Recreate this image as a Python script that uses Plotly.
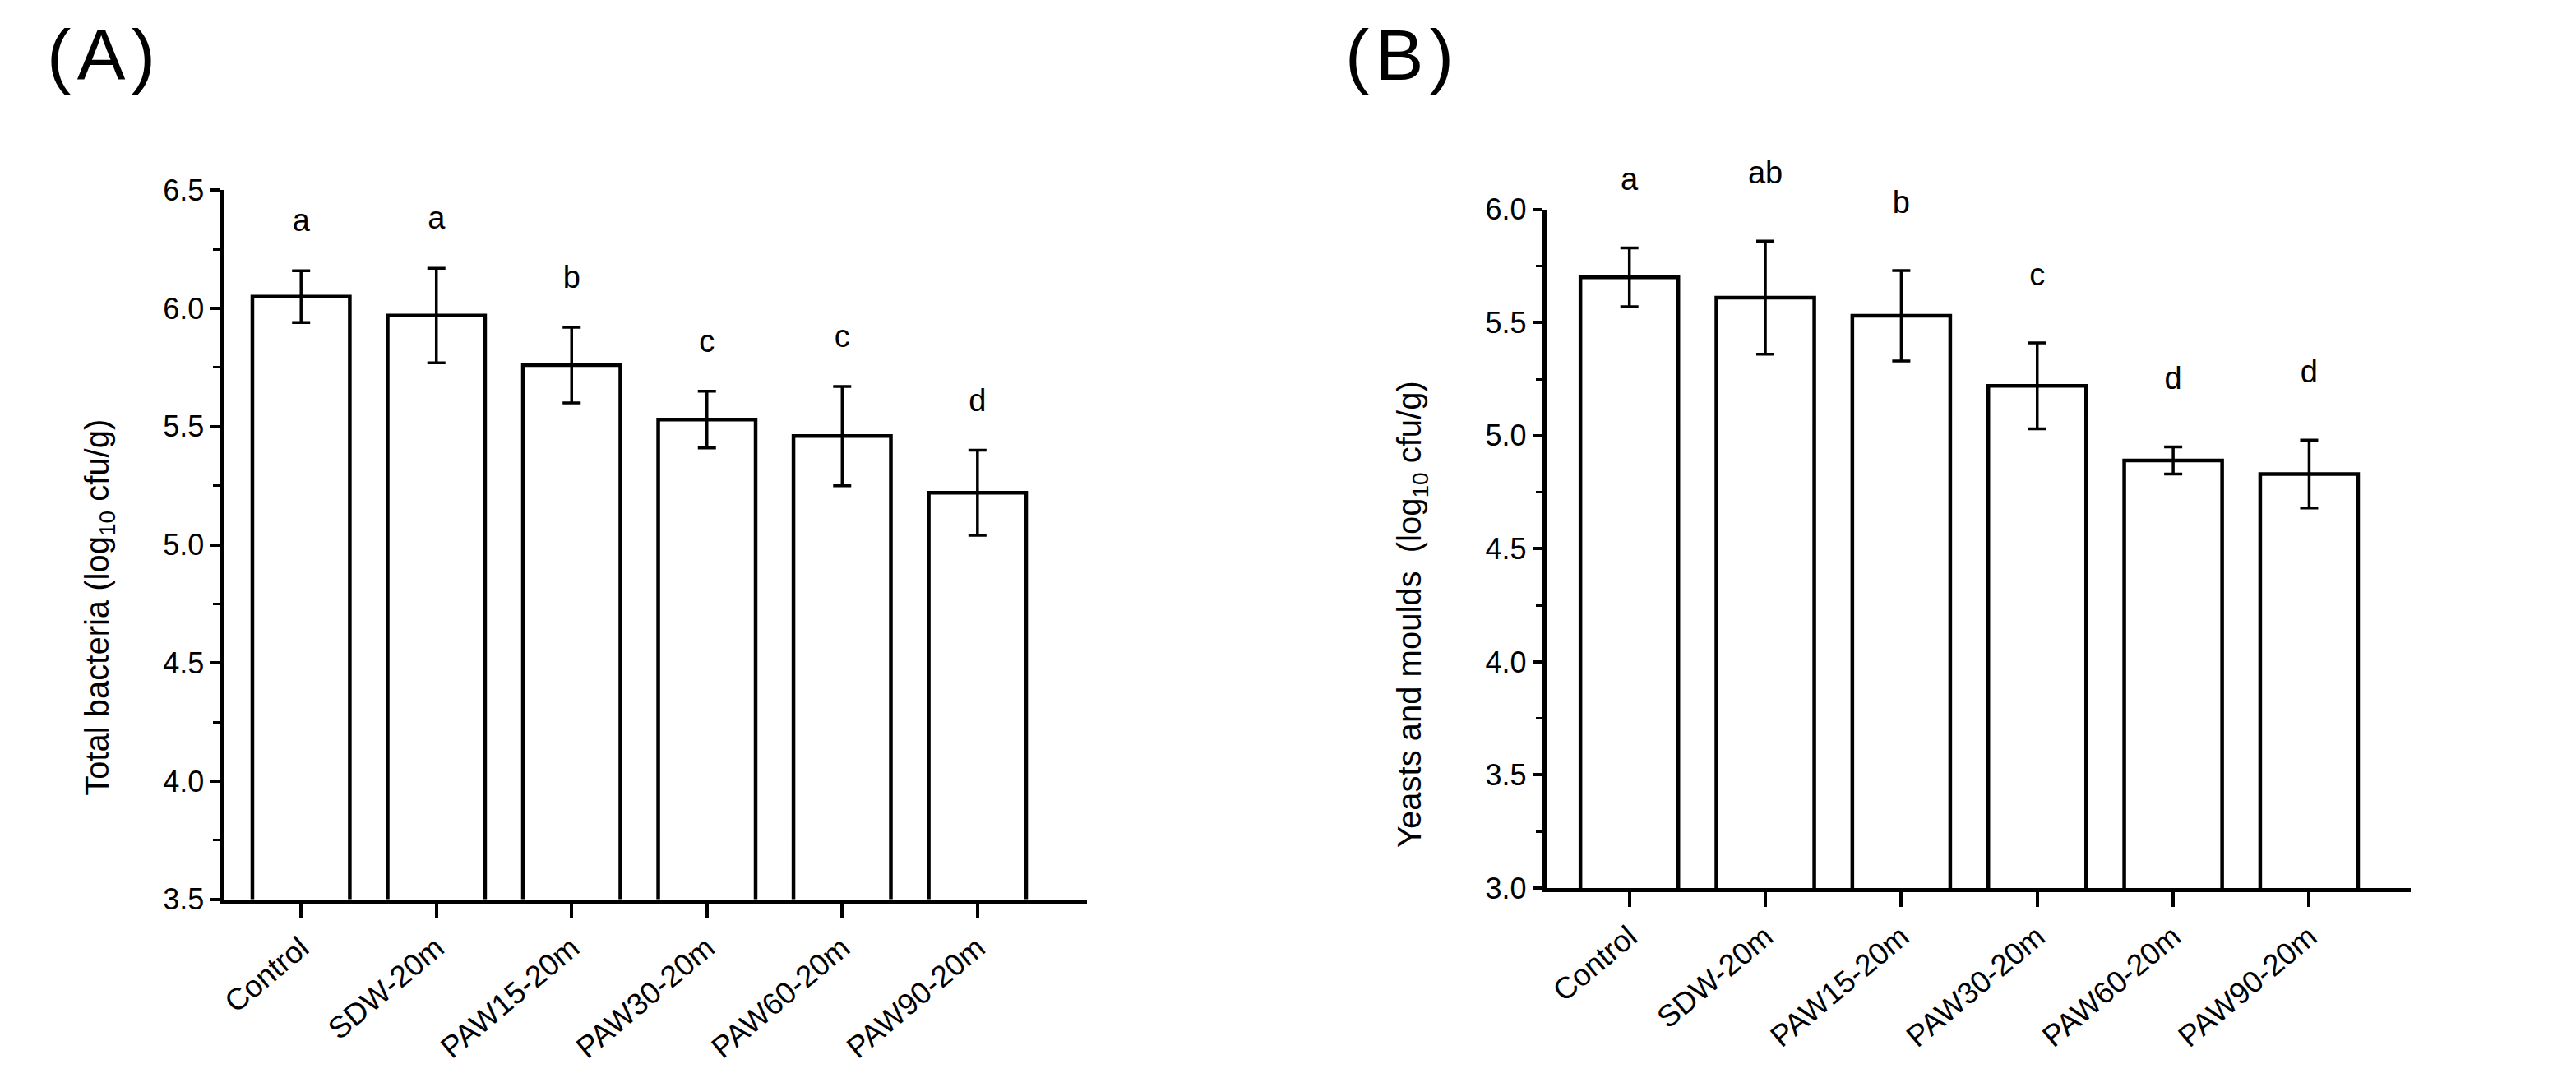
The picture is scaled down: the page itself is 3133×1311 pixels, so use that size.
import plotly.graph_objects as go

categories = ["Control", "SDW-20m", "PAW15-20m", "PAW30-20m", "PAW60-20m", "PAW90-20m"]

# Panel A: Total bacteria (log10 cfu/g)
bact_mean = [6.05, 5.97, 5.76, 5.53, 5.46, 5.22]
bact_err = [0.11, 0.20, 0.16, 0.12, 0.21, 0.18]
bact_letters = ["a", "a", "b", "c", "c", "d"]

# Panel B: Yeasts and moulds (log10 cfu/g)
ym_mean = [5.70, 5.61, 5.53, 5.22, 4.89, 4.83]
ym_err = [0.13, 0.25, 0.20, 0.19, 0.06, 0.15]
ym_letters = ["a", "ab", "b", "c", "d", "d"]

W, H = 3133, 1311
FONT = "Liberation Sans, Arial, sans-serif"

# plot-area pixel geometry
A_LEFT, A_RIGHT, A_TOP, A_BOT = 258, 1310, 210, 1100
B_LEFT, B_RIGHT, B_TOP, B_BOT = 1870, 2924, 234, 1086
A_RANGE, B_RANGE = (3.5, 6.5), (3.0, 6.0)
EXT = 0.6  # extra value room above the axes for the significance letters

fig = go.Figure()

def bar_trace(means, errs, xa, ya):
    return go.Bar(
        x=categories, y=means, xaxis=xa, yaxis=ya, width=0.72,
        marker=dict(color="white", line=dict(color="black", width=4.5)),
        error_y=dict(type="data", array=errs, visible=True, color="black",
                     thickness=3.5, width=11),
        showlegend=False,
    )

def letter_trace(means, errs, letters, offset, xa, ya):
    return go.Scatter(
        x=categories, y=[m + e + offset for m, e in zip(means, errs)],
        xaxis=xa, yaxis=ya, mode="text", text=letters, textposition="middle center",
        textfont=dict(family=FONT, size=38, color="black"), cliponaxis=False,
        showlegend=False, hoverinfo="skip",
    )

fig.add_trace(bar_trace(bact_mean, bact_err, "x", "y"))
fig.add_trace(bar_trace(ym_mean, ym_err, "x2", "y2"))
fig.add_trace(letter_trace(bact_mean, bact_err, bact_letters, 0.2, "x", "y3"))
fig.add_trace(letter_trace(ym_mean, ym_err, ym_letters, 0.29, "x2", "y4"))

def px_x(p):
    return p / W

def px_y(p):
    return 1 - p / H

def ext_top(top, bot, rng):
    per_unit = (bot - top) / (rng[1] - rng[0])
    return top - EXT * per_unit

xcommon = dict(
    type="category", showline=True, linewidth=5, linecolor="black",
    ticks="outside", ticklen=18, tickwidth=3.5, tickcolor="black", tickangle=-40,
    tickfont=dict(family=FONT, size=37, color="black"), showgrid=False, zeroline=False,
)
ycommon = dict(
    showline=True, linewidth=5, linecolor="black", ticks="outside", ticklen=12,
    tickwidth=4, tickcolor="black", dtick=0.5, tickformat=".1f",
    tickfont=dict(family=FONT, size=36, color="black"), showgrid=False, zeroline=False,
    minor=dict(ticks="outside", dtick=0.25, ticklen=8, tickwidth=3, tickcolor="black", showgrid=False),
)
hidden = dict(visible=False, showgrid=False, zeroline=False, fixedrange=True)

fig.update_layout(
    width=W, height=H, margin=dict(l=0, r=0, t=0, b=0),
    paper_bgcolor="white", plot_bgcolor="rgba(0,0,0,0)",
    xaxis=dict(xcommon, domain=[px_x(A_LEFT), px_x(A_RIGHT)], range=[-0.57, 5.81], anchor="y"),
    yaxis=dict(ycommon, domain=[px_y(A_BOT), px_y(A_TOP)], range=list(A_RANGE), anchor="x"),
    xaxis2=dict(xcommon, domain=[px_x(B_LEFT), px_x(B_RIGHT)], range=[-0.61, 5.75], anchor="y2"),
    yaxis2=dict(ycommon, domain=[px_y(B_BOT), px_y(B_TOP)], range=list(B_RANGE), anchor="x2"),
    yaxis3=dict(hidden, domain=[px_y(A_BOT), px_y(ext_top(A_TOP, A_BOT, A_RANGE))],
                range=[A_RANGE[0], A_RANGE[1] + EXT], anchor="x"),
    yaxis4=dict(hidden, domain=[px_y(B_BOT), px_y(ext_top(B_TOP, B_BOT, B_RANGE))],
                range=[B_RANGE[0], B_RANGE[1] + EXT], anchor="x2"),
)

ann = []
ann.append(dict(x=px_x(106), y=px_y(734), xref="paper", yref="paper",
                text="Total bacteria (log<sub>10</sub> cfu/g)", textangle=-90, showarrow=False,
                font=dict(family=FONT, size=40, color="black"), xanchor="center", yanchor="middle"))
ann.append(dict(x=px_x(1706), y=px_y(742), xref="paper", yref="paper",
                text="Yeasts and moulds  (log<sub>10</sub> cfu/g)", textangle=-90, showarrow=False,
                font=dict(family=FONT, size=40, color="black"), xanchor="center", yanchor="middle"))

ann.append(dict(x=px_x(108), y=px_y(40), xref="paper", yref="paper", text="(\u200aA\u200a)",
                showarrow=False, font=dict(family=FONT, size=88, color="black"),
                xanchor="center", yanchor="middle"))
ann.append(dict(x=px_x(1691), y=px_y(40), xref="paper", yref="paper", text="(\u200aB\u200a)",
                showarrow=False, font=dict(family=FONT, size=88, color="black"),
                xanchor="center", yanchor="middle"))

fig.update_layout(annotations=ann)

fig.write_html("out.html")
